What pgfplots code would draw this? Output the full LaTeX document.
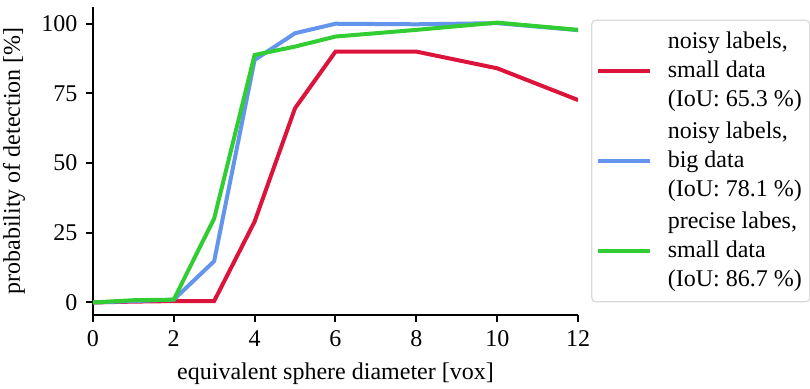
\documentclass[border=0pt]{standalone}
\usepackage{fontspec}
\setmainfont{Liberation Serif}
\usepackage{pgfplots}
\pgfplotsset{compat=1.18}
\definecolor{cred}{RGB}{220,20,60}
\definecolor{cblue}{RGB}{100,149,237}
\definecolor{cgreen}{RGB}{50,205,50}
\begin{document}
\fontsize{12}{14.4}\selectfont
\begin{tikzpicture}
\useasboundingbox (0,0) rectangle (405pt,194pt);
\begin{axis}[
  at={(46.4pt,36.5pt)}, anchor=south west,
  scale only axis, width=242.7pt, height=154pt,
  xmin=0, xmax=12, ymin=-4.5, ymax=106,
  axis x line*=bottom, axis y line*=left,
  axis line style={-, line width=1pt, black},
  xtick={0,2,4,6,8,10,12}, ytick={0,25,50,75,100},
  tick align=outside, major tick length=3.5pt,
  tick style={line width=1pt, black},
  /pgf/number format/assume math mode=true,
  ticklabel style={font=\fontsize{12}{14.4}\selectfont},
  label style={font=\fontsize{12}{14.4}\selectfont},
  xlabel={equivalent sphere diameter [vox]},
  ylabel={probability of detection [\%]},
  legend style={at={(1,0.5)}, anchor=west, xshift=6.5pt,
    draw=black!15, rounded corners=2pt, line width=0.6pt,
    font=\fontsize{12}{14.4}\selectfont, row sep=2pt,
    inner xsep=2pt, inner ysep=4pt, cells={align=left},
    /tikz/every odd column/.append style={column sep=6pt}},
  legend cell align=left,
  legend image code/.code={\draw[#1] (0pt,0pt) -- (26pt,0pt);},
  every axis plot/.append style={line width=2pt},
]
\addplot[cred] coordinates {(0,0) (1,0.3) (2,0.5) (3,0.5) (4,29) (5,69.7) (6,90) (8,90) (10,84) (12,72.6)};
\addlegendentry{noisy labels,\\small data\\(IoU: 65.3 \%)}
\addplot[cblue] coordinates {(0,0) (1,0.5) (2,1) (3,14.8) (4,87) (5,96.6) (6,100) (8,99.8) (10,100.2) (12,97.7)};
\addlegendentry{noisy labels,\\big data\\(IoU: 78.1 \%)}
\addplot[cgreen] coordinates {(0,0) (1,0.8) (2,1) (3,30.1) (4,88.8) (5,91.8) (6,95.4) (8,97.8) (10,100.4) (12,97.8)};
\addlegendentry{precise labes,\\small data\\(IoU: 86.7 \%)}
\end{axis}
\end{tikzpicture}
\end{document}
